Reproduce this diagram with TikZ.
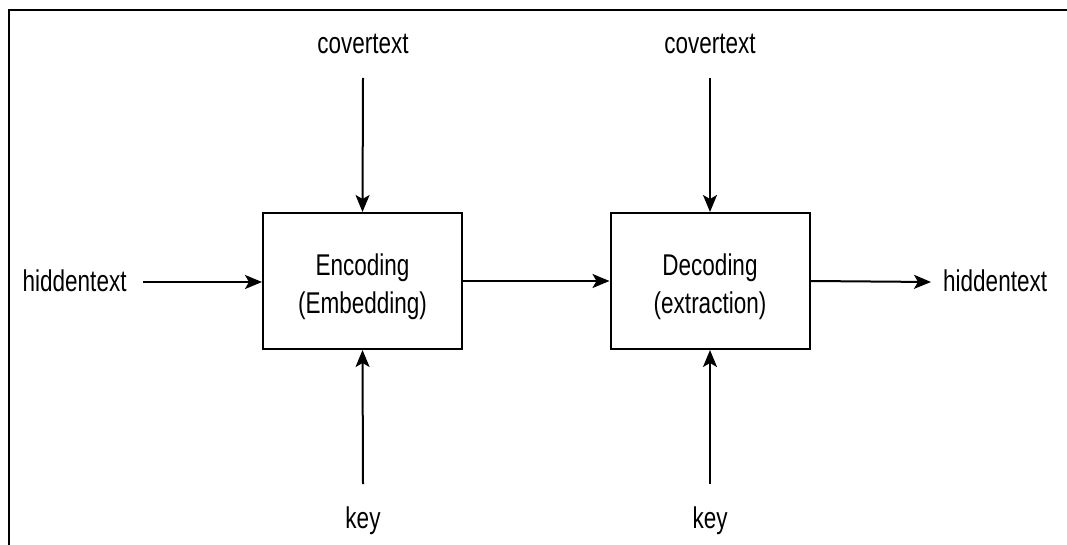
\documentclass[tikz,border=0pt]{standalone}
\usepackage{fontspec}
\setmainfont{Liberation Sans}
\usetikzlibrary{arrows.meta}
\newcommand{\sqz}[1]{\scalebox{0.75}[1]{#1}}
\begin{document}
\begin{tikzpicture}[x=1pt,y=-1pt,
  every node/.style={font=\fontsize{30}{38.5}\selectfont, inner sep=0pt},
  procbox/.style={draw, line width=2pt, minimum width=199pt, minimum height=136pt},
  boxtext/.style={align=center, text height=25pt, text depth=2.5pt, yshift=-21.5pt},
  lbl/.style={anchor=base},
  conn/.style={line width=2pt, -{Stealth[length=17pt,width=14pt,inset=4pt]}},
  frame/.style={line width=2.2pt}]
\useasboundingbox (0,0) rectangle (1067,545);
\draw[frame] (1067,10) -- (9,10) -- (9,545);
\node[procbox] (enc) at (362.5,281) {};
\node[procbox] (dec) at (710,281) {};
\node[boxtext] (enctext) at (enc.center) {\sqz{Encoding}\\\sqz{(Embedding)}};
\node[boxtext] (dectext) at (dec.center) {\sqz{Decoding}\\\sqz{(extraction)}};
\node[lbl] (cov1) at (363,54) {\sqz{covertext}};
\node[lbl] (cov2) at (710,54) {\sqz{covertext}};
\node[lbl] (key1) at (363,528) {\sqz{key}};
\node[lbl] (key2) at (710,528) {\sqz{key}};
\node[anchor=base west] (hin) at (22.5,291.5) {\sqz{hiddentext}};
\node[anchor=base west] (hout) at (943,291) {\sqz{hiddentext}};
\coordinate (c1) at (363,78);
\coordinate (c2) at (710,78);
\coordinate (k1) at (363,484);
\coordinate (k2) at (710,484);
\coordinate (h1) at (143,282);
\coordinate (h2) at (931,282);
\draw[conn] (c1) -- (enc.north);
\draw[conn] (c2) -- (dec.north);
\draw[conn] (k1) -- (enc.south);
\draw[conn] (k2) -- (dec.south);
\draw[conn] (h1) -- (h1 -| enc.west);
\draw[conn] (enc.east) -- (dec.west);
\draw[conn] (dec.east) -- (h2);
\end{tikzpicture}
\end{document}
